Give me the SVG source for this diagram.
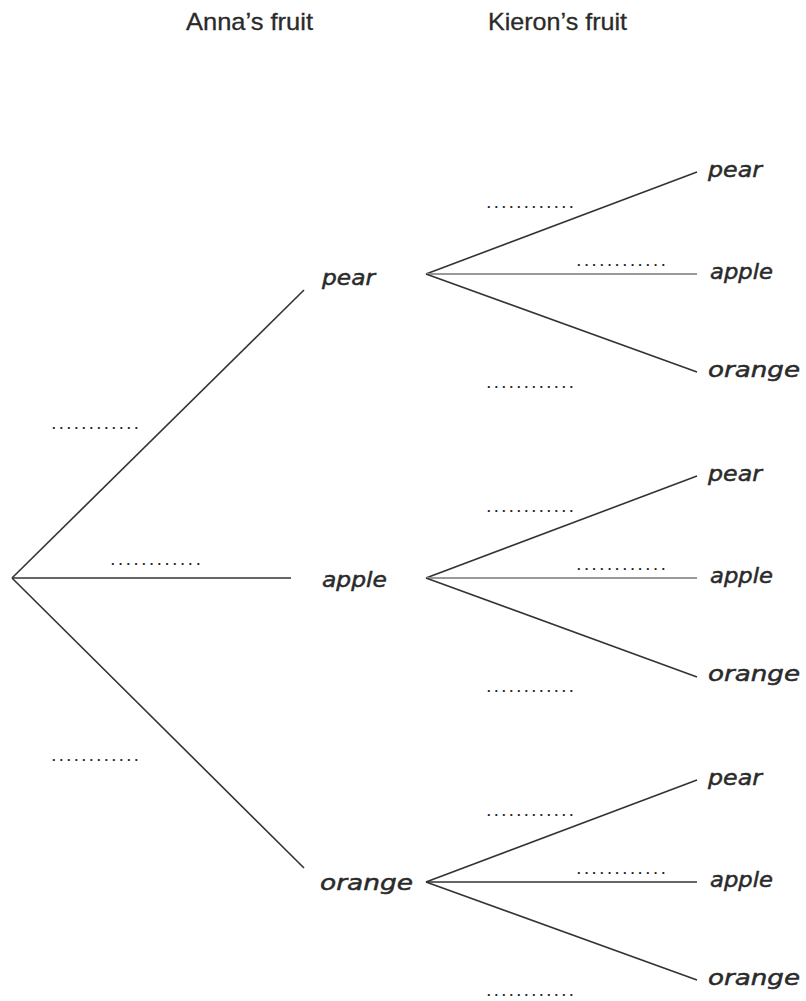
<svg xmlns="http://www.w3.org/2000/svg" width="806" height="1001" viewBox="0 0 806 1001">
<style>
.h{font-family:"Liberation Sans",Arial,sans-serif;font-size:24px;fill:#2a2a2a;stroke:#2a2a2a;stroke-width:0.3}
.f{font-family:"DejaVu Sans",sans-serif;font-style:italic;font-size:22px;fill:#2a2a2a;stroke:#2a2a2a;stroke-width:0.5}
.d{font-family:"Liberation Sans",Arial,sans-serif;font-size:13px;font-weight:bold;fill:#222}
.l{stroke:#333;stroke-width:1.6;fill:none}
.g{stroke:#999;stroke-width:2;fill:none}
</style>
<rect width="806" height="1001" fill="#fff"/>
<text class="h" x="186" y="30" textLength="127" lengthAdjust="spacingAndGlyphs">Anna’s fruit</text>
<text class="h" x="488" y="30" textLength="139" lengthAdjust="spacingAndGlyphs">Kieron’s fruit</text>
<g id="connectors">
<line class="l" x1="12" y1="578" x2="304" y2="290"/>
<line class="l" x1="12" y1="578" x2="291" y2="578"/>
<line class="l" x1="12" y1="578" x2="304" y2="868"/>
<line class="l" x1="426" y1="274" x2="697" y2="172"/>
<line class="g" x1="426" y1="274" x2="697" y2="274"/>
<line class="l" x1="426" y1="274" x2="697" y2="372"/>
<line class="l" x1="426" y1="578" x2="697" y2="476"/>
<line class="g" x1="426" y1="578" x2="697" y2="578"/>
<line class="l" x1="426" y1="578" x2="697" y2="677"/>
<line class="l" x1="426" y1="882" x2="697" y2="780"/>
<line class="l" x1="426" y1="882" x2="697" y2="882"/>
<line class="l" x1="426" y1="882" x2="697" y2="980"/>
</g>
<g id="probs">
<text class="d" x="52" y="429" textLength="86" lengthAdjust="spacing">............</text>
<text class="d" x="111" y="565" textLength="89" lengthAdjust="spacing">............</text>
<text class="d" x="52" y="761" textLength="86" lengthAdjust="spacing">............</text>
<text class="d" x="487" y="208" textLength="86" lengthAdjust="spacing">............</text>
<text class="d" x="577" y="266" textLength="88" lengthAdjust="spacing">............</text>
<text class="d" x="487" y="388" textLength="86" lengthAdjust="spacing">............</text>
<text class="d" x="487" y="512" textLength="86" lengthAdjust="spacing">............</text>
<text class="d" x="577" y="570" textLength="88" lengthAdjust="spacing">............</text>
<text class="d" x="487" y="692" textLength="86" lengthAdjust="spacing">............</text>
<text class="d" x="487" y="816" textLength="86" lengthAdjust="spacing">............</text>
<text class="d" x="577" y="874" textLength="88" lengthAdjust="spacing">............</text>
<text class="d" x="487" y="996" textLength="86" lengthAdjust="spacing">............</text>
</g>
<g id="a-pear"><text class="f" x="322" y="285" textLength="53" lengthAdjust="spacingAndGlyphs">pear</text></g>
<g id="a-apple"><text class="f" x="322" y="587" textLength="65" lengthAdjust="spacingAndGlyphs">apple</text></g>
<g id="a-orange"><text class="f" x="320" y="890" textLength="93" lengthAdjust="spacingAndGlyphs">orange</text></g>
<g id="k-pear-pear"><text class="f" x="708" y="177" textLength="54" lengthAdjust="spacingAndGlyphs">pear</text></g>
<g id="k-pear-apple"><text class="f" x="710" y="279" textLength="63" lengthAdjust="spacingAndGlyphs">apple</text></g>
<g id="k-pear-orange"><text class="f" x="708" y="377" textLength="92" lengthAdjust="spacingAndGlyphs">orange</text></g>
<g id="k-apple-pear"><text class="f" x="708" y="481" textLength="54" lengthAdjust="spacingAndGlyphs">pear</text></g>
<g id="k-apple-apple"><text class="f" x="710" y="583" textLength="63" lengthAdjust="spacingAndGlyphs">apple</text></g>
<g id="k-apple-orange"><text class="f" x="708" y="681" textLength="92" lengthAdjust="spacingAndGlyphs">orange</text></g>
<g id="k-orange-pear"><text class="f" x="708" y="785" textLength="54" lengthAdjust="spacingAndGlyphs">pear</text></g>
<g id="k-orange-apple"><text class="f" x="710" y="887" textLength="63" lengthAdjust="spacingAndGlyphs">apple</text></g>
<g id="k-orange-orange"><text class="f" x="708" y="985" textLength="92" lengthAdjust="spacingAndGlyphs">orange</text></g>
</svg>
